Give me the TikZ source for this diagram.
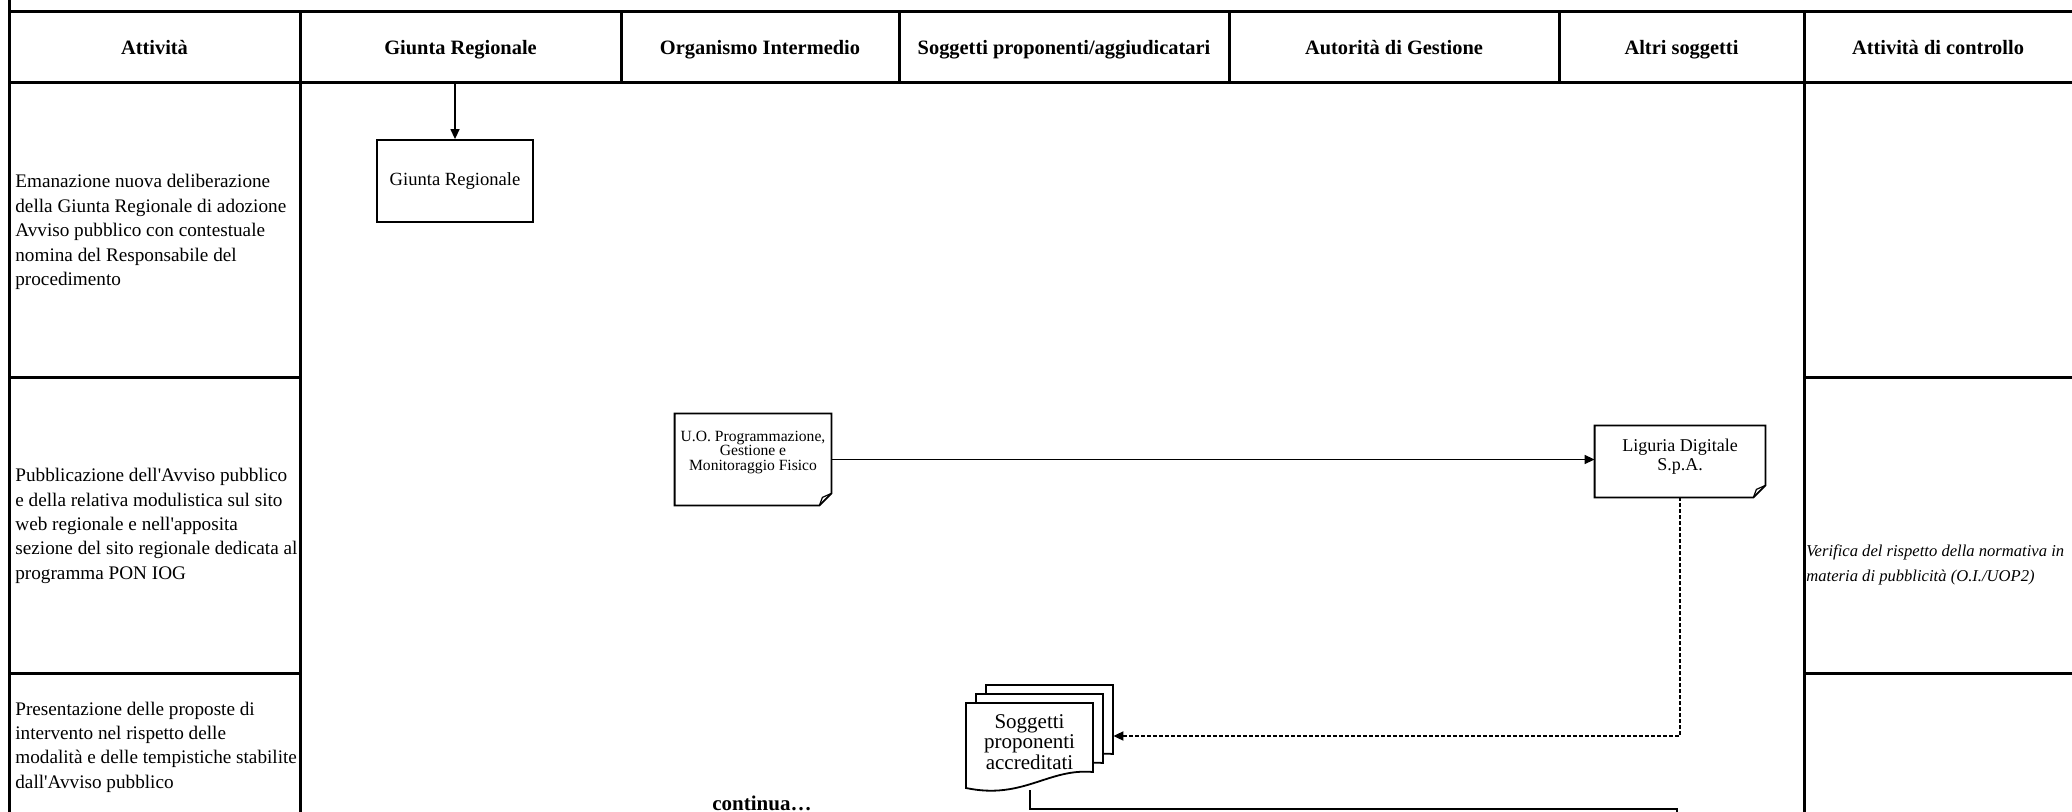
\documentclass[tikz,border=0pt]{standalone}
\usepackage{fontspec}
\setmainfont{Liberation Serif}
\usetikzlibrary{arrows.meta,calc}

\begin{document}
\begin{tikzpicture}[x=0.5pt,y=-0.5pt,
  grid/.style={line width=1.5pt, line cap=rect},
  hdr/.style={font=\fontsize{10.2}{12}\selectfont\bfseries, anchor=base, inner sep=0pt},
  act/.style={font=\fontsize{9.6}{12.2}\selectfont, align=left, anchor=west, inner sep=0pt},
  ctrl/.style={font=\fontsize{8.3}{12.2}\selectfont\itshape, align=left, anchor=west, inner sep=0pt},
  boxline/.style={line width=0.9pt, fill=white},
  plainbox/.style={draw, line width=0.9pt, fill=white, inner sep=0pt},
  hole/.style={inner sep=0pt},
  flow/.style={line width=0.7pt, -{Triangle[length=5pt,width=4.5pt]}},
  dflow/.style={line width=0.9pt, dash pattern=on 2pt off 1pt, -{Triangle[length=5pt,width=4.5pt]}},
  endline/.style={line width=0.7pt},
]
\useasboundingbox (0,0) rectangle (2072,812);

% ---- table frame ----
\draw[grid] (9,0) -- (9,812);
\draw[grid] (9,12) -- (2072,12);
\draw[grid] (9,83) -- (2072,83);
\foreach \cx in {621,899,1229,1559} \draw[grid] (\cx,12) -- (\cx,83);
\draw[grid] (300,12) -- (300,812);
\draw[grid] (1804,12) -- (1804,812);
\draw[grid] (9,378) -- (300,378);
\draw[grid] (9,673) -- (300,673);
\draw[grid] (1804,378) -- (2072,378);
\draw[grid] (1804,673) -- (2072,673);

% ---- column headings ----
\node[hdr] (h1) at (154.5,55) {Attività};
\node[hdr] (h2) at (460.5,55) {Giunta Regionale};
\node[hdr] (h3) at (760,55) {Organismo Intermedio};
\node[hdr] (h4) at (1064,55) {Soggetti proponenti/aggiudicatari};
\node[hdr] (h5) at (1394,55) {Autorità di Gestione};
\node[hdr] (h6) at (1681.5,55) {Altri soggetti};
\node[hdr] (h7) at (1938,55) {Attività di controllo};

% ---- activity descriptions ----
\node[act] (a1) at (15,232) {Emanazione nuova deliberazione\\della Giunta Regionale di adozione\\Avviso pubblico con contestuale\\nomina del Responsabile del\\procedimento};
\node[act] (a2) at (15,526) {Pubblicazione dell\textquotesingle Avviso pubblico\\e della relativa modulistica sul sito\\web regionale e nell\textquotesingle apposita\\sezione del sito regionale dedicata al\\programma PON IOG};
\node[act] (a3) at (15,747) {Presentazione delle proposte di\\intervento nel rispetto delle\\modalità e delle tempistiche stabilite\\dall\textquotesingle Avviso pubblico};

% ---- control activity ----
\node[ctrl] (c2) at (1806,565) {Verifica del rispetto della normativa in\\materia di pubblicità (O.I./UOP2)};

% ---- Giunta Regionale ----
\coordinate (gtop) at (455,83);
\node[plainbox, minimum width=78pt, minimum height=41pt,
      font=\fontsize{9.3}{11}\selectfont] (gr) at (455,181) {Giunta Regionale};
\draw[flow] (gtop) -- (gr.north);

% ---- U.O. document ----
\node[hole, minimum width=78pt, minimum height=45.5pt] (uo) at (753,459.5) {};
\draw[boxline] (uo.north west) -- (uo.north east) -- ($(uo.south east)+(0,-12)$)
  -- ($(uo.south east)+(-12,0)$) -- (uo.south west) -- cycle;
\draw[line width=0.6pt] ($(uo.south east)+(0,-12)$) -- ($(uo.south east)+(-9,-8)$)
  -- ($(uo.south east)+(-12,0)$);
\node[font=\fontsize{7.8}{7.4}\selectfont, align=center, inner sep=0pt] (uot)
  at ($(uo.center)+(0,-7)$) {U.O. Programmazione,\\Gestione e\\Monitoraggio Fisico};

% ---- Liguria Digitale document ----
\node[hole, minimum width=85pt, minimum height=35.5pt] (lig) at (1680,461.5) {};
\draw[boxline] (lig.north west) -- (lig.north east) -- ($(lig.south east)+(0,-12)$)
  -- ($(lig.south east)+(-12,0)$) -- (lig.south west) -- cycle;
\draw[line width=0.6pt] ($(lig.south east)+(0,-12)$) -- ($(lig.south east)+(-9,-8)$)
  -- ($(lig.south east)+(-12,0)$);
\node[font=\fontsize{9}{9.6}\selectfont, align=center, inner sep=0pt] (ligt)
  at ($(lig.center)+(0,-5)$) {Liguria Digitale\\S.p.A.};

\draw[flow] (uo.east) -- (lig.west |- uo.east);

% ---- stack of documents ----
\node[hole, minimum width=73.5pt, minimum height=51pt] (sp) at (1039.5,736) {};
\foreach \s in {20,10,0} {
  \begin{scope}[shift={(\s,{-0.9*\s})}]
    \draw[boxline] (966,703) -- (1093,703) -- (1093,772)
      .. controls (1048,768) and (1023,800) .. (966,788) -- cycle;
  \end{scope}
}
\node[font=\fontsize{10.5}{10.2}\selectfont, align=center, inner sep=0pt] (spt)
  at (1029.5,742) {Soggetti\\proponenti\\accreditati};

\draw[dflow] (lig.south) |- (sp.east);

% ---- outgoing connector ----
\coordinate (spb) at (1030,790);
\coordinate (nextpage) at (1677,812);
\draw[endline] (spb) -- ++(0,19) -| (nextpage);

\node[font=\fontsize{10.5}{12}\selectfont\bfseries, inner sep=0pt] (cont) at (762,803) {continua\dots};
\end{tikzpicture}
\end{document}
